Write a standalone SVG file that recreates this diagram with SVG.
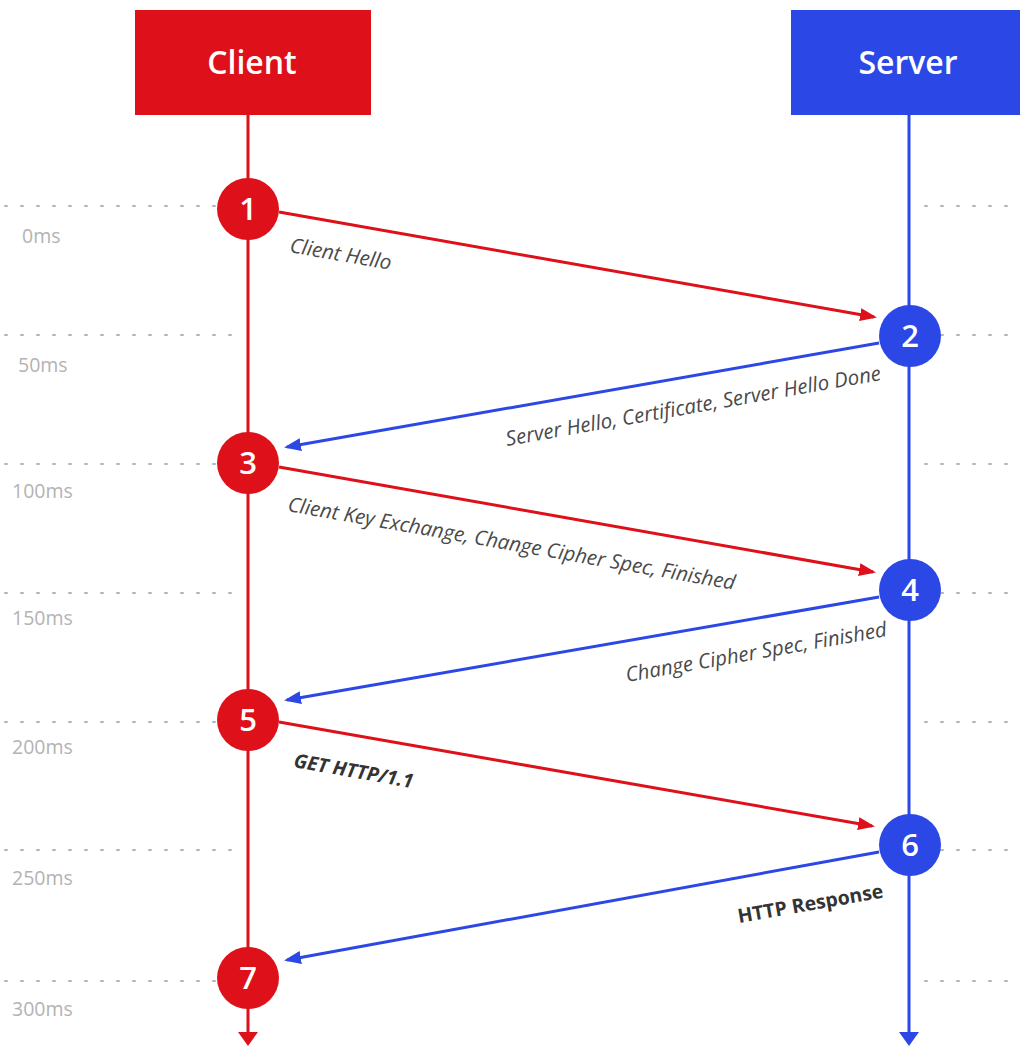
<svg xmlns="http://www.w3.org/2000/svg" width="1020" height="1051" viewBox="0 0 1020 1051">
<defs>
<style>
.dots{stroke:#b5b5b5;stroke-width:2;stroke-dasharray:2 14;stroke-linecap:round;fill:none}
.time{font-family:"Open Sans","Liberation Sans",sans-serif;font-size:19.5px;fill:#b3b3b3}
.red{stroke:#de1019;stroke-width:3;fill:none}
.blue{stroke:#2b47e6;stroke-width:3;fill:none}
.cr{fill:#de1019}
.cb{fill:#2b47e6}
.num{font-family:"Open Sans","Liberation Sans",sans-serif;font-size:31px;font-weight:600;fill:#ffffff;text-anchor:middle}
.head{font-family:"Open Sans","Liberation Sans",sans-serif;font-size:32px;font-weight:600;fill:#ffffff;text-anchor:middle}
.lbl{font-family:"Open Sans","Liberation Sans",sans-serif;font-size:20.5px;font-style:italic;fill:#4a4a4a}
.bold{font-family:"Open Sans","Liberation Sans",sans-serif;font-size:19.5px;font-weight:700;fill:#333333}
</style>
<marker id="ar" markerUnits="userSpaceOnUse" markerWidth="18" markerHeight="14" refX="14" refY="6.5" orient="auto"><path d="M0,0 L17,6.5 L0,13 z" fill="#de1019"/></marker>
<marker id="ab" markerUnits="userSpaceOnUse" markerWidth="18" markerHeight="14" refX="14" refY="6.5" orient="auto"><path d="M0,0 L17,6.5 L0,13 z" fill="#2b47e6"/></marker>
</defs>
<rect width="1020" height="1051" fill="#ffffff"/>

<g id="grid">
<path class="dots" d="M5 206H235M5 335H235M5 464H235M5 593H235M5 722H235M5 850H235M5 981H235"/>
<path class="dots" d="M925 206H1020M925 335H1020M925 464H1020M925 593H1020M925 722H1020M925 850H1020M925 981H1020"/>
<text class="time" x="22" y="243">0ms</text>
<text class="time" x="18" y="372">50ms</text>
<text class="time" x="12" y="498">100ms</text>
<text class="time" x="12" y="625">150ms</text>
<text class="time" x="12" y="754">200ms</text>
<text class="time" x="12" y="885">250ms</text>
<text class="time" x="12" y="1016">300ms</text>
</g>

<g id="lifelines">
<line class="red" x1="248" y1="115" x2="248" y2="1034"/>
<path d="M238,1032 L258,1032 L248,1046 z" class="cr"/>
<line class="blue" x1="909" y1="115" x2="909" y2="1034"/>
<path d="M899,1032 L919,1032 L909,1046 z" class="cb"/>
</g>

<g id="client">
<rect x="135" y="10" width="236" height="105" fill="#de1019"/>
<text class="head" x="252" y="74">Client</text>
</g>
<g id="server">
<rect x="791" y="10" width="229" height="105" fill="#2b47e6"/>
<text class="head" x="908" y="74">Server</text>
</g>

<g id="connectors">
<line class="red" x1="279" y1="212" x2="874" y2="317" marker-end="url(#ar)"/>
<line class="blue" x1="879" y1="343" x2="287" y2="447" marker-end="url(#ab)"/>
<line class="red" x1="279" y1="467" x2="873" y2="572" marker-end="url(#ar)"/>
<line class="blue" x1="879" y1="597" x2="287" y2="700" marker-end="url(#ab)"/>
<line class="red" x1="279" y1="722" x2="872" y2="826" marker-end="url(#ar)"/>
<line class="blue" x1="879" y1="852" x2="287" y2="960" marker-end="url(#ab)"/>
</g>

<g id="labels">
<text class="lbl" transform="translate(289,252) rotate(10)">Client Hello</text>
<text class="lbl" transform="translate(507,446) rotate(-10)">Server Hello, Certificate, Server Hello Done</text>
<text class="lbl" transform="translate(287,511) rotate(10)">Client Key Exchange, Change Cipher Spec, Finished</text>
<text class="lbl" transform="translate(627,682) rotate(-10)">Change Cipher Spec, Finished</text>
<text class="bold" font-style="italic" transform="translate(293,767) rotate(10)">GET HTTP/1.1</text>
<text class="bold" transform="translate(739,923) rotate(-10)">HTTP Response</text>
</g>

<g id="n1"><circle class="cr" cx="248" cy="209" r="31"/><text class="num" x="248" y="220">1</text></g>
<g id="n2"><circle class="cb" cx="910" cy="336" r="31"/><text class="num" x="910" y="347">2</text></g>
<g id="n3"><circle class="cr" cx="248" cy="463" r="31"/><text class="num" x="248" y="474">3</text></g>
<g id="n4"><circle class="cb" cx="910" cy="590" r="31"/><text class="num" x="910" y="601">4</text></g>
<g id="n5"><circle class="cr" cx="248" cy="720" r="31"/><text class="num" x="248" y="731">5</text></g>
<g id="n6"><circle class="cb" cx="910" cy="845" r="31"/><text class="num" x="910" y="856">6</text></g>
<g id="n7"><circle class="cr" cx="248" cy="978" r="31"/><text class="num" x="248" y="989">7</text></g>
</svg>
